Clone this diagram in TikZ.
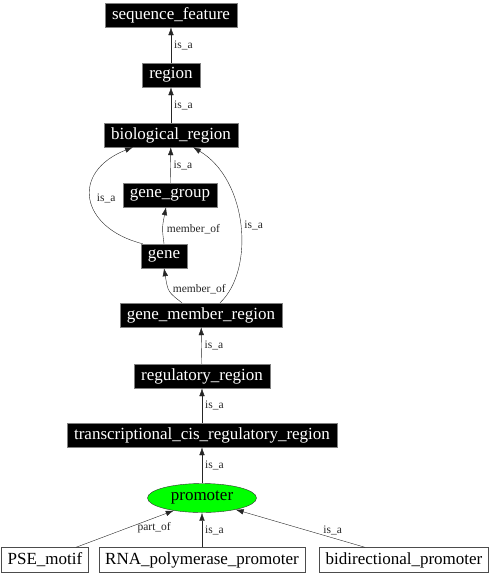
\documentclass[tikz,border=0pt]{standalone}
\usepackage{fontspec}
\setmainfont{Liberation Serif}
\usetikzlibrary{arrows.meta,shapes.geometric,positioning}

\begin{document}
\begin{tikzpicture}[x=1pt,y=-1pt,
	term/.style={draw=gray, fill=black, text=white, font=\fontsize{17}{19}\selectfont,
		minimum height=24pt, inner xsep=7pt, inner ysep=1pt},
	leaf/.style={draw=black!70, fill=white, font=\fontsize{17}{19}\selectfont,
		minimum height=25pt, inner xsep=6pt, inner ysep=1pt},
	edge/.style={-{Latex[length=8pt,width=5.5pt]}, black!85},
	lbl/.style={font=\fontsize{11.5}{12}\selectfont, inner sep=1pt}]
		\useasboundingbox (0,0) rectangle (494,576);
		% ontology terms
		\node[term] (seqfeat) at (171,15) {sequence\_feature};
		\node[term] (region) at (171,75) {region};
		\node[term] (bioreg) at (171,135) {biological\_region};
		\node[term] (genegroup) at (170,195) {gene\_group};
		\node[term] (gene) at (164,256) {gene};
		\node[term] (gmr) at (201,315) {gene\_member\_region};
		\node[term] (regreg) at (202,376) {regulatory\_region};
		\node[term] (tcrr) at (202,435) {transcriptional\_cis\_regulatory\_region};
		\node[ellipse, draw=black!80, fill=green, font=\fontsize{17}{19}\selectfont,
			minimum width=109pt, minimum height=29pt, inner sep=0pt] (promoter) at (202,498) {promoter};
		\node[leaf] (pse) at (45,560) {PSE\_motif};
		\node[leaf] (rnapol) at (202,560) {RNA\_polymerase\_promoter};
		\node[leaf] (bidir) at (404,560) {bidirectional\_promoter};
		
		% is_a chain
		\draw[edge] (region) -- (seqfeat) node[lbl, midway, right=2pt]{is\_a};
		\draw[edge] (bioreg) -- (region) node[lbl, midway, right=2pt]{is\_a};
		\draw[edge] (genegroup) -- (bioreg) node[lbl, midway, right=2pt]{is\_a};
		\draw[edge] (regreg) -- (gmr) node[lbl, midway, right=2pt]{is\_a};
		\draw[edge] (tcrr) -- (regreg) node[lbl, midway, right=2pt]{is\_a};
		\draw[edge] (promoter) -- (tcrr) node[lbl, midway, right=2pt]{is\_a};
		
		% curved ones
		\draw[edge] ([xshift=2pt]gene.north west) .. controls (80,228) and (70,172) .. ([xshift=-38pt]bioreg.south)
			node[lbl, pos=0.5, right=5pt]{is\_a};
		\draw[edge] ([xshift=19pt]gmr.north) .. controls (255,270) and (248,180) .. ([xshift=22pt]bioreg.south)
			node[lbl, pos=0.5, right=3pt]{is\_a};
		\draw[edge] (gene.north) .. controls (162,228) .. ([xshift=-4pt]genegroup.south)
			node[lbl, pos=0.45, right=3pt]{member\_of};
		\draw[edge] ([xshift=-19pt]gmr.north) .. controls (168,292) .. (gene.south)
			node[lbl, pos=0.55, right=3pt]{member\_of};
		
		% into promoter
		\draw[edge] ([xshift=31pt]pse.north) -- (promoter.204) node[lbl, pos=0.8, below=3pt]{part\_of};
		\draw[edge] (rnapol) -- (promoter) node[lbl, midway, right=2pt]{is\_a};
		\draw[edge] ([xshift=-39pt]bidir.north) -- (promoter.341) node[lbl, pos=0.25, above=2pt]{is\_a};
		
		\end{tikzpicture}
\end{document}
